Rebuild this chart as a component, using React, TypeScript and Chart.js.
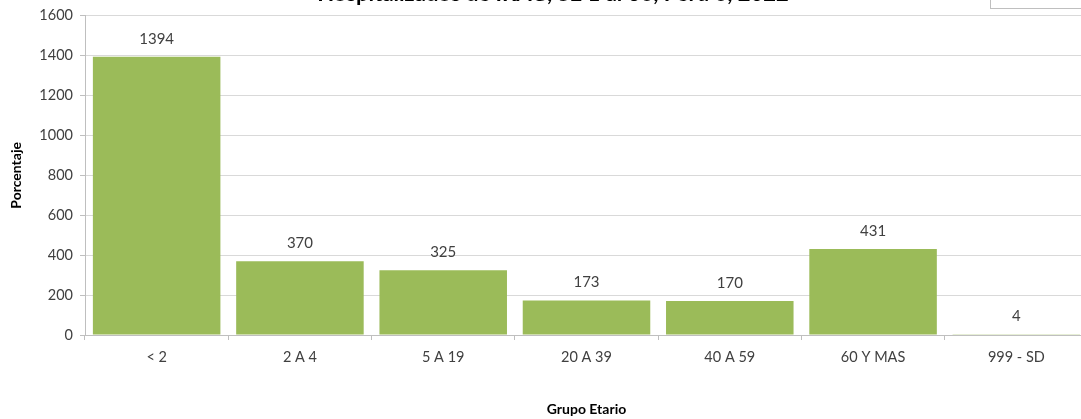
import React, { useEffect, useRef } from "react";
import { Chart, registerables } from "chart.js";

Chart.register(...registerables);

const categories = ["< 2", "2 A 4", "5 A 19", "20 A 39", "40 A 59", "60 Y MAS", "999 - SD"];
const values = [1394, 370, 325, 173, 170, 431, 4];
const titleText = "Hospitalizados de IRAG, SE 1 al 36, Perú 6, 2022";
const yTitle = "Porcentaje";
const xTitle = "Grupo Etario";

const FONT = "Lato, 'Open Sans', sans-serif";

export default function App() {
  const ref = useRef<HTMLCanvasElement | null>(null);
  useEffect(() => {
    if (!ref.current) return;
    const labelPlugin = {
      id: "labels",
      afterDatasetsDraw(chart: any) {
        const ctx = chart.ctx;
        const meta = chart.getDatasetMeta(0);
        ctx.save();
        ctx.fillStyle = "#404040";
        ctx.font = `15px ${FONT}`;
        ctx.textAlign = "center";
        ctx.textBaseline = "middle";
        meta.data.forEach((bar: any, i: number) => {
          ctx.fillText(String(values[i]), bar.x, bar.y - 18);
        });
        // cropped title
        ctx.fillStyle = "#000";
        ctx.font = `bold 22px ${FONT}`;
        ctx.textBaseline = "alphabetic";
        ctx.fillText(titleText, 553, 1);
        // cropped legend box
        ctx.strokeStyle = "#BFBFBF";
        ctx.lineWidth = 1;
        ctx.strokeRect(990.5, -20, 100, 28.5);
        ctx.restore();
      },
    };
    const chart = new Chart(ref.current, {
      type: "bar",
      data: {
        labels: categories,
        datasets: [
          {
            data: values,
            backgroundColor: "#9BBB59",
            borderWidth: 0,
            barPercentage: 0.89,
            categoryPercentage: 1,
          },
        ],
      },
      options: {
        animation: false,
        responsive: false,
        maintainAspectRatio: false,
        layout: { padding: { top: 14, right: 4, left: 0, bottom: 0 } },
        plugins: { legend: { display: false }, tooltip: { enabled: false }, title: { display: false } },
        scales: {
          x: {
            offset: true,
            grid: {
              display: true,
              offset: true,
              drawOnChartArea: false,
              drawTicks: true,
              tickLength: 5,
              color: "#BFBFBF",
            },
            border: { color: "#BFBFBF" },
            ticks: { color: "#404040", font: { size: 14.5, family: FONT }, padding: 9, maxRotation: 0 },
            title: {
              display: true,
              text: xTitle,
              color: "#000",
              font: { size: 14, weight: "bold", family: FONT },
              padding: { top: 0, bottom: 1 },
            },
            afterFit(scale: any) {
              scale.height = 84;
            },
          },
          y: {
            min: 0,
            max: 1600,
            ticks: {
              stepSize: 200,
              color: "#404040",
              font: { size: 14.5, family: FONT },
              padding: 7,
              callback: (v: any) => String(v),
            },
            grid: { color: "#D9D9D9", tickLength: 5, tickColor: "#BFBFBF" },
            border: { color: "#BFBFBF" },
            title: {
              display: true,
              text: yTitle,
              color: "#000",
              font: { size: 14, weight: "bold", family: FONT },
              padding: { top: 8, bottom: 0 },
            },
            afterFit(scale: any) {
              scale.width = 85;
            },
          },
        },
      },
      plugins: [labelPlugin],
    });
    return () => chart.destroy();
  }, []);
  return (
    <div
      style={{
        position: "absolute",
        top: 0,
        left: 0,
        width: 1081,
        height: 419,
        overflow: "hidden",
        background: "#fff",
      }}
    >
      <canvas ref={ref} width={1092} height={419} style={{ display: "block" }} />
    </div>
  );
}
